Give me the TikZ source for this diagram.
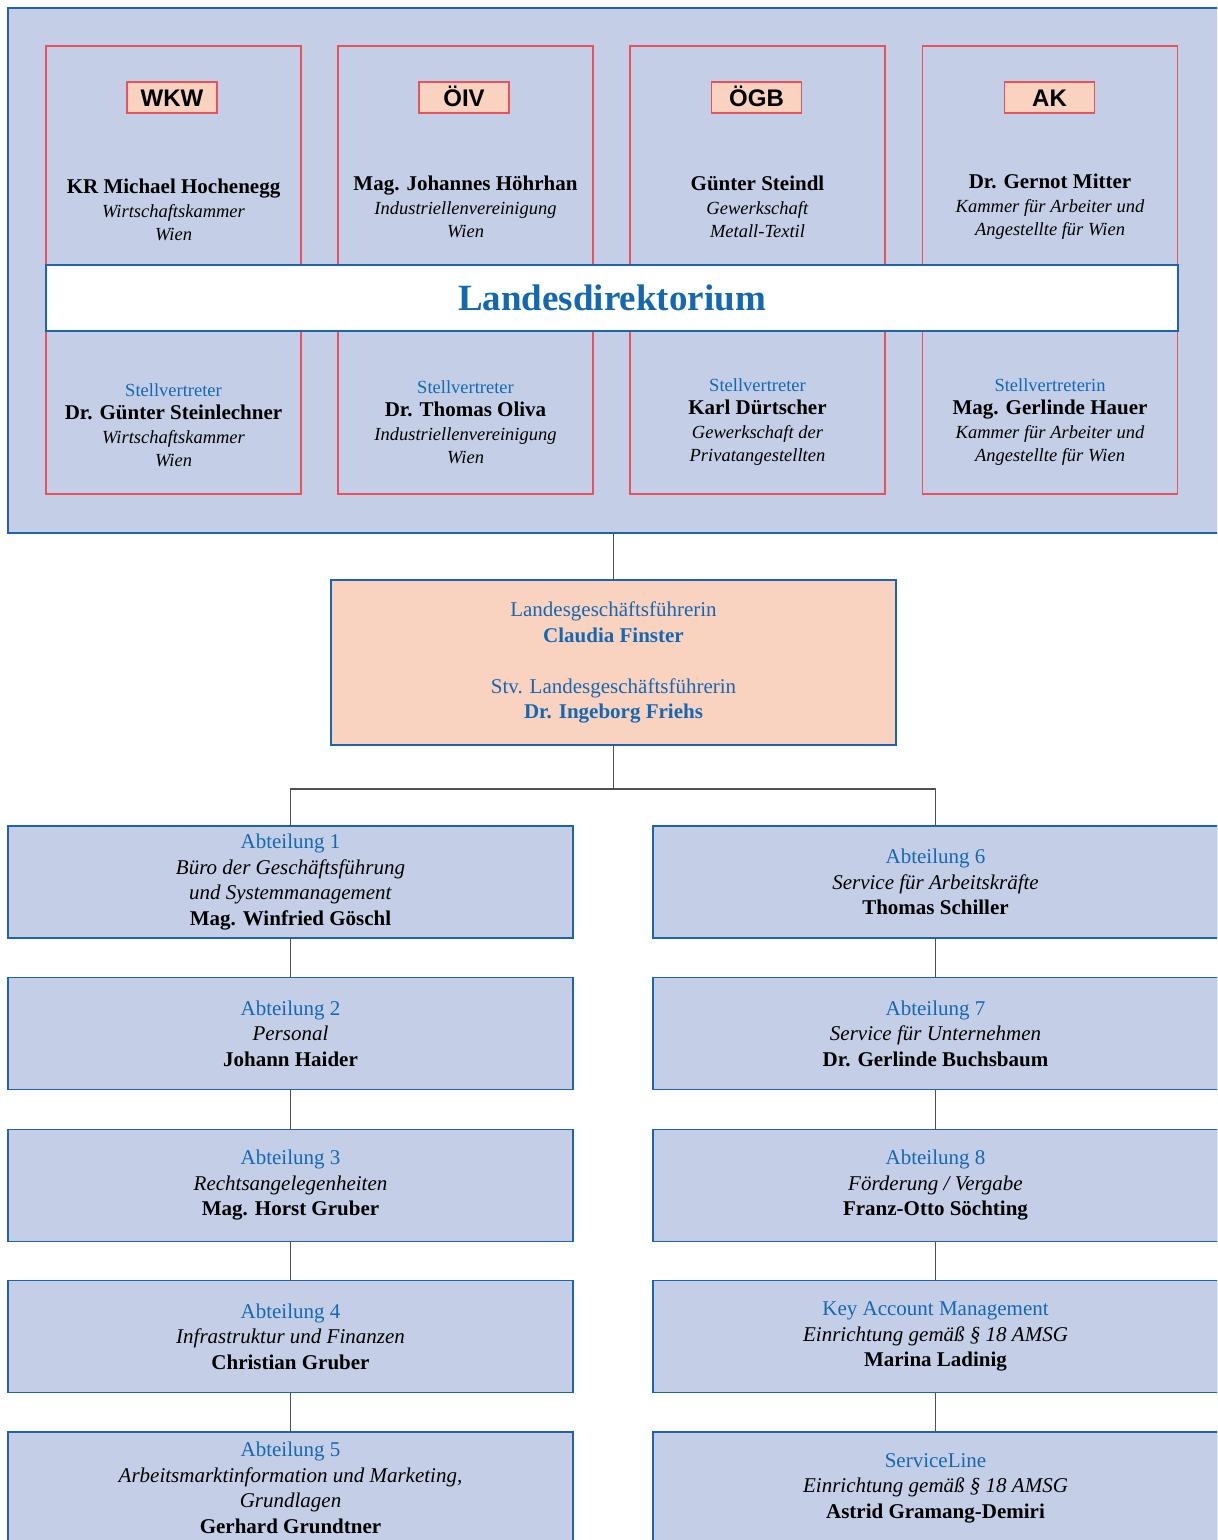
\documentclass[tikz,border=0pt]{standalone}
\usepackage{fontspec}
\setmainfont{Liberation Serif}
\newfontfamily\labelfont{Liberation Sans}
\definecolor{amsbg}{RGB}{196,206,230}
\definecolor{amsframe}{RGB}{30,100,172}
\definecolor{amstext}{RGB}{20,104,178}
\definecolor{amsred}{RGB}{232,82,92}
\definecolor{amspeach}{RGB}{250,211,192}
\definecolor{linegray}{RGB}{80,80,80}
\tikzset{
  >=latex,
}
\tikzstyle{frame}=[draw=amsframe,line width=0.75pt,inner sep=0pt,outer sep=0pt]
\tikzstyle{member}=[draw=amsred,fill=amsbg,line width=0.7pt,minimum width=127.5pt,minimum height=224pt,inner sep=0pt]
\tikzstyle{orglabel}=[draw=amsred,fill=amspeach,line width=0.7pt,minimum width=45pt,minimum height=15.5pt,inner sep=0pt,text height=8.6pt,text depth=0pt,font=\labelfont\bfseries\fontsize{12}{12}\selectfont]
\tikzstyle{who}=[align=center,inner sep=0pt,font=\fontsize{9.25}{11.75}\selectfont]
\tikzstyle{dept}=[frame,fill=amsbg,minimum width=282.5pt,minimum height=56pt,align=center,font=\fontsize{10.5}{12.75}\selectfont]
\tikzstyle{link}=[draw=linegray,line width=0.7pt]
\newcommand{\nme}[1]{{\fontsize{10.5}{11.75}\selectfont\bfseries #1}}
\newcommand{\blu}[1]{\textcolor{amstext}{#1}}

\begin{document}
\begin{tikzpicture}[x=0.5pt,y=-0.5pt]
  \useasboundingbox (0,0) rectangle (1217,1540);
  \clip (0,0) rectangle (1217,1540);
  % Landesdirektorium
  \node[frame,fill=amsbg,minimum width=611pt,minimum height=262.5pt] (dir) at (619,270.5) {};
  \node[member] (m1) at (173.5,270) {};
  \node[member] (m2) at (465.5,270) {};
  \node[member] (m3) at (757.5,270) {};
  \node[member] (m4) at (1050,270) {};
  \node[orglabel] (wkw) at (172,97.5) {WKW};
  \node[orglabel] (oiv) at (464,97.5) {ÖIV};
  \node[orglabel] (ogb) at (756.5,97.5) {ÖGB};
  \node[orglabel] (ak) at (1049.5,97.5) {AK};
  \node[who] (p1) at (173.5,210) {\nme{KR Michael Hochenegg}\\ \textit{Wirtschaftskammer}\\ \textit{Wien}};
  \node[who] (p2) at (465.5,207) {\nme{Mag. Johannes Höhrhan}\\ \textit{Industriellenvereinigung}\\ \textit{Wien}};
  \node[who] (p3) at (757.5,207) {\nme{Günter Steindl}\\ \textit{Gewerkschaft}\\ \textit{Metall-Textil}};
  \node[who] (p4) at (1050,207) {\nme{Dr. Gernot Mitter}\\ \textit{Kammer für Arbeiter und}\\ \textit{Angestellte für Wien}};
  \node[frame,fill=white,minimum width=566pt,minimum height=33pt,text=amstext,font=\fontsize{18.5}{20}\selectfont\bfseries] (ld) at (612,298) {Landesdirektorium};
  \node[who] (s1) at (173.5,425) {\blu{Stellvertreter}\\ \nme{Dr. Günter Steinlechner}\\ \textit{Wirtschaftskammer}\\ \textit{Wien}};
  \node[who] (s2) at (465.5,422) {\blu{Stellvertreter}\\ \nme{Dr. Thomas Oliva}\\ \textit{Industriellenvereinigung}\\ \textit{Wien}};
  \node[who] (s3) at (757.5,422) {\blu{Stellvertreter}\\ \nme{Karl Dürtscher}\\ \textit{Gewerkschaft der}\\ \textit{Privatangestellten}};
  \node[who] (s4) at (1050,422) {\blu{Stellvertreterin}\\ \nme{Mag. Gerlinde Hauer}\\ \textit{Kammer für Arbeiter und}\\ \textit{Angestellte für Wien}};
  % Geschaeftsfuehrung
  \node[frame,fill=amspeach,minimum width=282.5pt,minimum height=82.5pt,align=center,text=amstext,font=\fontsize{10.5}{12.75}\selectfont] (lgf) at (613.5,662.5)
    {Landesgeschäftsführerin\\ \textbf{Claudia Finster}\\[12.75pt] Stv. Landesgeschäftsführerin\\ \textbf{Dr. Ingeborg Friehs}};
  \draw[link] (dir.south -| lgf.north) -- (lgf.north);
  \coordinate (split) at (613.5,789);
  \draw[link] (lgf.south) -- (split);
  % Abteilungen
  \node[dept] (a1) at (290.5,882) {\blu{Abteilung 1}\\ \textit{Büro der Geschäftsführung}\\ \textit{und Systemmanagement}\\ \textbf{Mag. Winfried Göschl}};
  \node[dept] (a2) at (290.5,1033.5) {\blu{Abteilung 2}\\ \textit{Personal}\\ \textbf{Johann Haider}};
  \node[dept] (a3) at (290.5,1185.5) {\blu{Abteilung 3}\\ \textit{Rechtsangelegenheiten}\\ \textbf{Mag. Horst Gruber}};
  \node[dept] (a4) at (290.5,1336.5) {\blu{Abteilung 4}\\ \textit{Infrastruktur und Finanzen}\\ \textbf{Christian Gruber}};
  \node[dept] (a5) at (290.5,1488) {\blu{Abteilung 5}\\ \textit{Arbeitsmarktinformation und Marketing,}\\ \textit{Grundlagen}\\ \textbf{Gerhard Grundtner}};
  \node[dept] (a6) at (935.5,882) {\blu{Abteilung 6}\\ \textit{Service für Arbeitskräfte}\\ \textbf{Thomas Schiller}};
  \node[dept] (a7) at (935.5,1033.5) {\blu{Abteilung 7}\\ \textit{Service für Unternehmen}\\ \textbf{Dr. Gerlinde Buchsbaum}};
  \node[dept] (a8) at (935.5,1185.5) {\blu{Abteilung 8}\\ \textit{Förderung / Vergabe}\\ \textbf{Franz-Otto Söchting}};
  \node[dept] (kam) at (935.5,1336.5) {\blu{Key Account Management}\\ \textit{Einrichtung gemäß § 18 AMSG}\\ \textbf{Marina Ladinig}};
  \node[dept] (sl) at (935.5,1488) {\blu{ServiceLine}\\ \textit{Einrichtung gemäß § 18 AMSG}\\ \textbf{Astrid Gramang-Demiri}};
  \draw[link] (a1.north) |- (split) -| (a6.north);
  \draw[link] (a1.south) -- (a2.north);
  \draw[link] (a2.south) -- (a3.north);
  \draw[link] (a3.south) -- (a4.north);
  \draw[link] (a4.south) -- (a5.north);
  \draw[link] (a6.south) -- (a7.north);
  \draw[link] (a7.south) -- (a8.north);
  \draw[link] (a8.south) -- (kam.north);
  \draw[link] (kam.south) -- (sl.north);
\end{tikzpicture}
\end{document}
